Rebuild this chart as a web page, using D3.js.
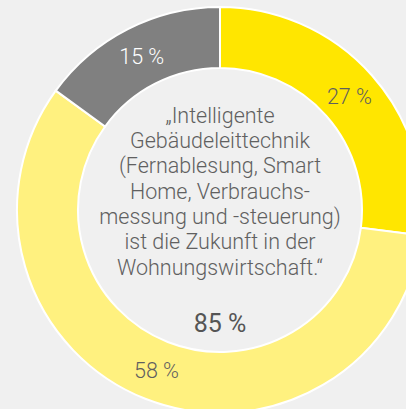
<!DOCTYPE html>
<html><head><meta charset="utf-8">
<script src="https://cdn.jsdelivr.net/npm/d3@7"></script>
<style>
html,body{margin:0;padding:0;background:#f0f0f0;}
svg{display:block;}
text{font-family:Roboto,"Open Sans",sans-serif;}
</style></head>
<body>
<svg id="chart" width="406" height="409"></svg>
<script>
const categories = ["Stimme voll zu", "Stimme eher zu", "Stimme nicht zu"];
const values = [27, 58, 15];
const labels = ["27 %", "58 %", "15 %"];
const colors = ["#ffe600", "#fff17f", "#808080"];
const labelColors = ["#5f5f5f", "#5f5f5f", "#ffffff"];
const centerLines = ["„Intelligente", "Gebäudeleittechnik", "(Fernablesung, Smart", "Home, Verbrauchs-", "messung und -steuerung)", "ist die Zukunft in der", "Wohnungswirtschaft.“"];
const centerTotal = "85 %";

const svg = d3.select("#chart");
const cx = 220, cy = 210, rOuter = 203, rInner = 142;
const g = svg.append("g").attr("transform", `translate(${cx},${cy})`);

const pie = d3.pie().sort(null).value(d => d)(values);
const arc = d3.arc().innerRadius(rInner).outerRadius(rOuter);

g.selectAll("path").data(pie).join("path")
  .attr("d", arc)
  .attr("fill", (d, i) => colors[i])
  .attr("stroke", "#ffffff")
  .attr("stroke-width", 2);

g.selectAll("text.lbl").data(pie).join("text")
  .attr("class", "lbl")
  .attr("transform", d => `translate(${arc.centroid(d)})`)
  .attr("text-anchor", "middle")
  .attr("dy", "0.36em")
  .attr("font-size", 21.5)
  .attr("font-weight", 300)
  .attr("fill", (d, i) => labelColors[i])
  .text((d, i) => labels[i]);

const lineH = 25.3;
g.selectAll("text.ctr").data(centerLines).join("text")
  .attr("class", "ctr")
  .attr("x", 0)
  .attr("y", (d, i) => -95 + i * lineH)
  .attr("dy", "0.36em")
  .attr("text-anchor", "middle")
  .attr("font-size", 21.5)
  .attr("font-weight", 300)
  .attr("fill", "#606060")
  .text(d => d);

g.append("text")
  .attr("x", 0).attr("y", 113).attr("dy", "0.36em")
  .attr("text-anchor", "middle")
  .attr("font-size", 25)
  .attr("font-weight", 400)
  .attr("fill", "#555555")
  .text(centerTotal);
</script>
</body></html>
